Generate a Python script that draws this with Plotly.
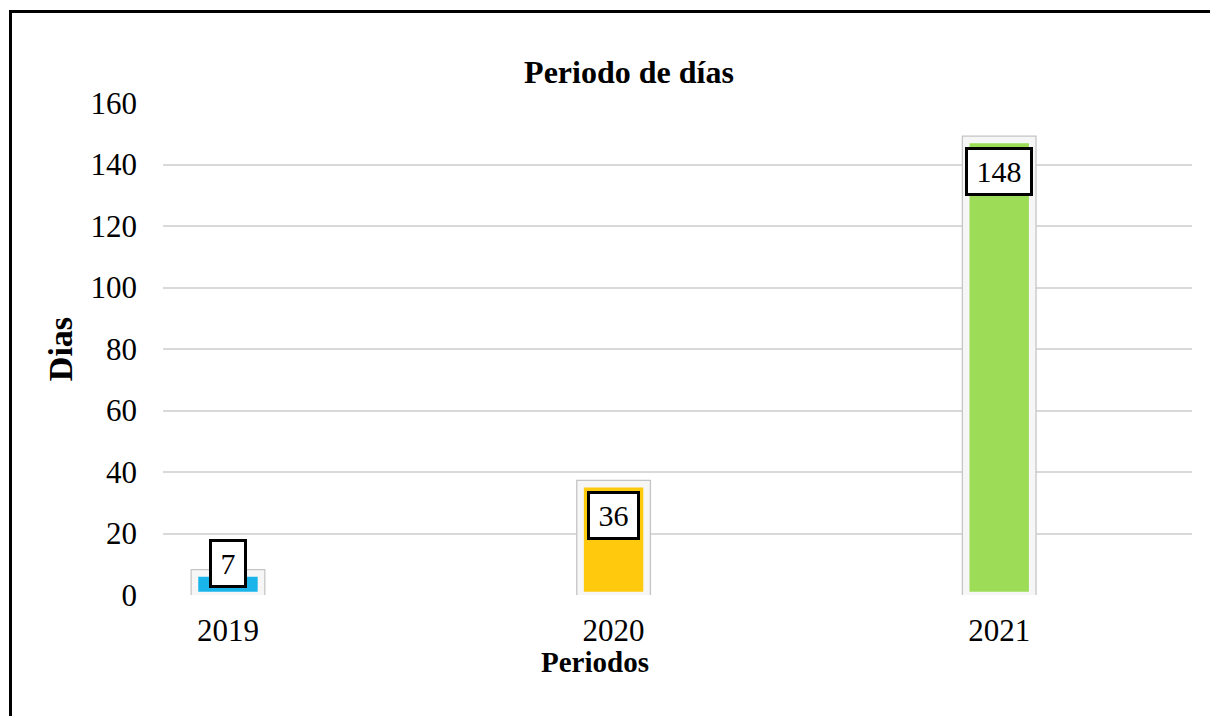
import plotly.graph_objects as go

# ---- data ----
periodos = ["2019", "2020", "2021"]
dias = [7, 36, 148]
colores = ["#19B5EA", "#FFC90E", "#9CDC57"]
y_ticks = [0, 20, 40, 60, 80, 100, 120, 140, 160]

FONT = "Liberation Serif, Times New Roman, serif"

fig = go.Figure()

# outer bevel (grey rim)
fig.add_trace(go.Bar(
    x=periodos, y=dias, width=0.171,
    marker=dict(color=colores, line=dict(color="#c4c4c4", width=9)),
    hoverinfo="skip", showlegend=False,
))
# inner bevel (white highlight) + coloured fill
fig.add_trace(go.Bar(
    x=periodos, y=dias, width=0.171,
    marker=dict(color=colores, line=dict(color="#f6f6f6", width=6.5)),
    showlegend=False,
))

# data labels in black-bordered boxes
for i, v in enumerate(dias):
    label = str(v)
    common = dict(x=i, text=label, showarrow=False, xref="x", yref="y",
                  width=15 * len(label) + 7,
                  font=dict(family=FONT, size=30, color="black"),
                  bgcolor="white", bordercolor="black", borderwidth=3, borderpad=5)
    if v >= 20:
        fig.add_annotation(y=v, yanchor="top", yshift=-7, **common)
    else:
        fig.add_annotation(y=0, yanchor="bottom", yshift=7, **common)

# x-axis title (placed left of plot centre, as in the original)
fig.add_annotation(text="<b>Periodos</b>", xref="paper", yref="paper",
                   x=(595 - 163) / 1029, y=(595 - 662) / 492, xanchor="center", yanchor="middle",
                   showarrow=False, font=dict(family=FONT, size=29, color="black"))

# outer frame (top and left visible)
fig.add_shape(type="rect", xref="paper", yref="paper",
              x0=(10.5 - 163) / 1029, x1=1.2, y0=-1, y1=(595 - 11.5) / 492,
              line=dict(color="black", width=3), fillcolor="rgba(0,0,0,0)", layer="above")

fig.update_layout(
    width=1210, height=716,
    margin=dict(l=163, r=18, t=103, b=121),
    paper_bgcolor="white", plot_bgcolor="white",
    barmode="overlay",
    font=dict(family=FONT, color="black"),
    title=dict(text="<b>Periodo de días</b>", font=dict(family=FONT, size=32, color="black"),
               x=629 / 1210, xref="container", xanchor="center",
               y=1 - 72 / 716, yref="container", yanchor="middle"),
    xaxis=dict(
        type="category", range=[-0.1685, 2.5],
        showgrid=False, showline=False, zeroline=False,
        tickfont=dict(family=FONT, size=31, color="black"),
        ticklabelstandoff=14,
    ),
    yaxis=dict(
        range=[0, 160], tickvals=y_ticks,
        showgrid=True, gridcolor="#d9d9d9", gridwidth=2,
        zeroline=False, showline=False,
        tickfont=dict(family=FONT, size=31, color="black"),
        ticklabelstandoff=25,
        title=dict(text="<b>Dias</b>", font=dict(family=FONT, size=34, color="black"), standoff=7),
    ),
)

fig.write_html(
    "out.html",
    config={"displayModeBar": False},
    post_script="document.body.style.margin='0';document.body.style.overflow='hidden';",
)
